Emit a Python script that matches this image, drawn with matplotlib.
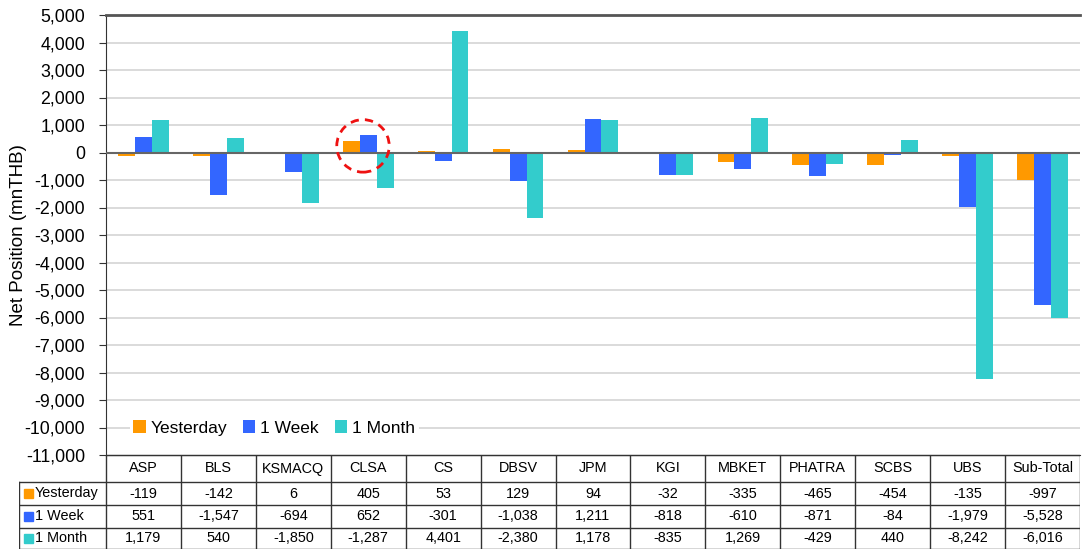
import matplotlib
matplotlib.use('Agg')
import matplotlib.pyplot as plt
from matplotlib.patches import Ellipse, Rectangle
from matplotlib.ticker import FuncFormatter
import numpy as np

plt.rcParams['font.family'] = ['Liberation Sans', 'DejaVu Sans']

brokers = ['ASP', 'BLS', 'KSMACQ', 'CLSA', 'CS', 'DBSV', 'JPM', 'KGI',
           'MBKET', 'PHATRA', 'SCBS', 'UBS', 'Sub-Total']
yesterday = [-119, -142, 6, 405, 53, 129, 94, -32, -335, -465, -454, -135, -997]
week = [551, -1547, -694, 652, -301, -1038, 1211, -818, -610, -871, -84, -1979, -5528]
month = [1179, 540, -1850, -1287, 4401, -2380, 1178, -835, 1269, -429, 440, -8242, -6016]

series_names = ['Yesterday', '1 Week', '1 Month']
series_vals = [yesterday, week, month]
colors = ['#FF9900', '#3366FF', '#33CCCC']

W, H = 1084, 552
fig = plt.figure(figsize=(W / 100, H / 100), dpi=100)

# main chart area (pixel positions from the reference)
x0, x1, ytop, ybot = 106, 1080, 15, 455
ax = fig.add_axes([x0 / W, 1 - ybot / H, (x1 - x0) / W, (ybot - ytop) / H])

n = len(brokers)
x = np.arange(n)
bw = 0.225
for i, (name, vals, c) in enumerate(zip(series_names, series_vals, colors)):
    ax.bar(x + (i - 1) * bw, vals, bw, color=c, label=name, zorder=3)

ax.set_xlim(-0.5, n - 0.5)
ax.set_ylim(-11000, 5000)
ax.set_yticks(np.arange(-11000, 5001, 1000))
ax.yaxis.set_major_formatter(FuncFormatter(lambda v, p: f'{int(v):,}'))
ax.tick_params(axis='y', labelsize=12.8, length=5, pad=10, direction='out', color='#333333')
ax.set_xticks([])
ax.grid(axis='y', color='#d4d4d4', linewidth=1.2, zorder=0)
ax.axhline(0, color='#666666', linewidth=1.5, zorder=4)
ax.set_ylabel('Net Position (mnTHB)', fontsize=13.5)
ax.yaxis.set_label_coords(-0.081, 0.5)
ax.spines['right'].set_visible(False)
ax.spines['top'].set_color('#555555')
ax.spines['top'].set_linewidth(2)
ax.spines['left'].set_color('#333333')
ax.spines['bottom'].set_color('#333333')

# red dashed circle around CLSA
ell = Ellipse((3 - 0.07, 240), 0.7, 1910, fill=False, edgecolor='#EE1111',
              linestyle=(0, (3, 2.2)), linewidth=2, zorder=5)
ax.add_patch(ell)

leg = ax.legend(loc='center left', bbox_to_anchor=(24 / 974, 27 / 440), ncol=3,
                fontsize=12.5, frameon=True, facecolor='white', edgecolor='none',
                framealpha=1, fancybox=False, borderpad=0.2, borderaxespad=0,
                handlelength=0.7, handleheight=0.7,
                handletextpad=0.3, columnspacing=0.9)

# data table underneath
tx0, ty0, ty1 = 19, 455, 549
tax = fig.add_axes([tx0 / W, 1 - ty1 / H, (x1 - tx0) / W, (ty1 - ty0) / H])
tax.set_xlim(tx0, x1)
tax.set_ylim(ty1, ty0)
tax.axis('off')

colw = (x1 - x0) / n
rows = [455, 482, 505, 528, 549]
lc = '#333333'
fs = 10.4
# horizontal lines
tax.plot([x0, x1], [rows[0], rows[0]], color=lc, lw=1)
for yy in rows[1:]:
    tax.plot([tx0, x1], [yy, yy], color=lc, lw=1)
# vertical lines
tax.plot([tx0, tx0], [rows[1], rows[-1]], color=lc, lw=1)
for j in range(n + 1):
    xx = x0 + j * colw
    tax.plot([xx, xx], [rows[0], rows[-1]], color=lc, lw=1)

for j, b in enumerate(brokers):
    tax.text(x0 + (j + 0.5) * colw, (rows[0] + rows[1]) / 2, b,
             ha='center', va='center', fontsize=fs)

for i, (name, vals, c) in enumerate(zip(series_names, series_vals, colors)):
    ym = (rows[i + 1] + rows[i + 2]) / 2
    tax.add_patch(Rectangle((24, ym - 4.5), 9, 9, color=c))
    tax.text(35, ym, name, ha='left', va='center', fontsize=fs)
    for j, v in enumerate(vals):
        tax.text(x0 + (j + 0.5) * colw, ym, f'{v:,}', ha='center', va='center', fontsize=fs)

fig.savefig('out.png', dpi=100)
